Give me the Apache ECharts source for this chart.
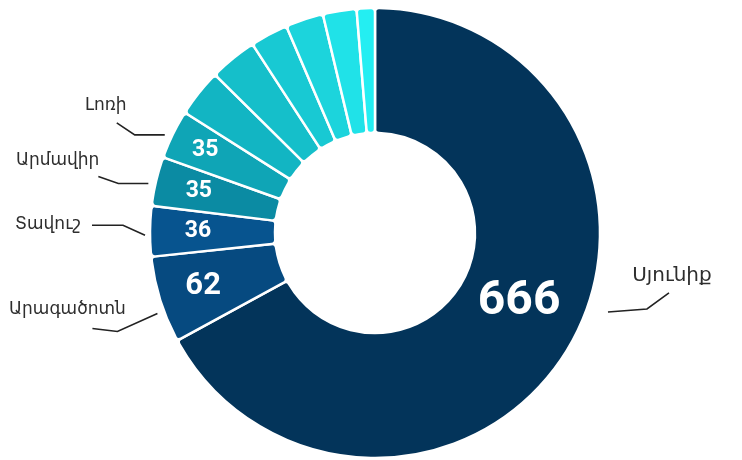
<!DOCTYPE html>
<html>
<head>
<meta charset="utf-8">
<script src="https://cdn.jsdelivr.net/npm/echarts@6/dist/echarts.min.js"></script>
<style>
  html, body { margin: 0; padding: 0; background: #fff; }
  #chart { width: 742px; height: 460px; }
</style>
</head>
<body>
<div id="chart"></div>
<script>
(function(){
  // data, clockwise from 12 o'clock
  var regions = ['Սյունիք', 'Արագածոտն', 'Տավուշ', 'Արմավիր', 'Լոռի',
                 'Կոտայք', 'Շիրակ', 'Գեղարքունիք', 'Արարատ', 'Վայոց ձոր', 'Երևան'];
  var values = [666, 62, 36, 35, 35, 34, 34, 27, 27, 24, 13];
  var colors = ['#03345a', '#064a80', '#07548f', '#0b8ba3', '#0fa5b6',
                '#12b5c3', '#15bfca', '#18c9d3', '#1cd4dc', '#20e2e8', '#24eef2'];
  var labelled = 5; // first five slices carry a name and a value

  var CX = 375, CY = 233, R0 = 100, R1 = 225;
  var numFont = 'Roboto, "Liberation Sans", sans-serif';
  var textFont = '"DejaVu Sans", "Noto Sans", sans-serif';

  // mid angle of each slice (screen radians, 0 = 3 o'clock, clockwise)
  var total = values.reduce(function(a, b){ return a + b; }, 0);
  var acc = 0;
  var midAng = values.map(function(v){
    var m = (acc + v / 2) / total * 2 * Math.PI - Math.PI / 2;
    acc += v;
    return m;
  });

  // number label placement: radius, small angle nudge, size
  var numPos = [
    { r: 160, turn: -5, size: 48 },
    { r: 180, turn: 0, size: 31 },
    { r: 177, turn: 0, size: 23 },
    { r: 181, turn: 0, size: 23 },
    { r: 189, turn: 0, size: 23 }
  ];

  // leader line shapes for the name labels
  var leaders = [
    { turn: -12, gap: 21, seg1: [39, -3], seg2: [22, -16], align: 'center', valign: 'bottom', tx: 3, ty: -7, size: 20 },
    { turn: -3, gap: 7, seg1: [-40, 18], seg2: [-25, -3], align: 'center', valign: 'bottom', tx: -25, ty: -10, size: 17 },
    { turn: -1, gap: 5, seg1: [-22, -10], seg2: [-31, 0], align: 'right', valign: 'middle', tx: -11, ty: -1, size: 17 },
    { turn: -1, gap: 7, seg1: [-30, 0], seg2: [-20, -7], align: 'right', valign: 'bottom', tx: 1, ty: -7, size: 17 },
    { turn: -1, gap: 7, seg1: [-30, 0], seg2: [-18, -12], align: 'center', valign: 'bottom', tx: -11, ty: -9, size: 17 }
  ];

  var mainData = regions.map(function(n, i){
    return {
      name: n, value: values[i],
      itemStyle: { color: colors[i] },
      label: i < labelled ? { show: true, fontSize: numPos[i].size } : { show: false }
    };
  });
  var nameData = regions.map(function(n, i){
    return {
      name: n, value: values[i],
      label: i < labelled ? { show: true, fontSize: leaders[i].size } : { show: false },
      labelLine: { show: i < labelled }
    };
  });

  var chart = echarts.init(document.getElementById('chart'), null, { renderer: 'canvas' });
  chart.setOption({
    animation: false,
    series: [
      {
        type: 'pie',
        center: [CX, CY],
        radius: [R0, R1],
        startAngle: 90,
        clockwise: true,
        avoidLabelOverlap: false,
        silent: true,
        itemStyle: { borderColor: '#fff', borderWidth: 2.5, borderRadius: 4 },
        label: {
          position: 'inside',
          color: '#fff',
          fontFamily: numFont,
          fontWeight: 'bold',
          formatter: '{c}'
        },
        labelLayout: function(p){
          var P = numPos[p.dataIndex];
          if (!P) return;
          var a = midAng[p.dataIndex] + P.turn * Math.PI / 180;
          return {
            x: CX + P.r * Math.cos(a),
            y: CY + P.r * Math.sin(a),
            align: 'center',
            verticalAlign: 'middle'
          };
        },
        data: mainData
      },
      {
        type: 'pie',
        center: [CX, CY],
        radius: [R0, R1],
        startAngle: 90,
        clockwise: true,
        avoidLabelOverlap: false,
        silent: true,
        itemStyle: { color: 'rgba(0,0,0,0)' },
        label: {
          position: 'outside',
          color: '#2e2e2e',
          fontFamily: textFont,
          formatter: '{b}'
        },
        labelLine: { length: 10, length2: 20, lineStyle: { color: '#222', width: 1.6 } },
        labelLayout: function(p){
          var L = leaders[p.dataIndex];
          if (!L) return;
          var a = midAng[p.dataIndex] + L.turn * Math.PI / 180;
          var r = R1 + L.gap;
          var x0 = CX + r * Math.cos(a), y0 = CY + r * Math.sin(a);
          var x1 = x0 + L.seg1[0], y1 = y0 + L.seg1[1];
          var x2 = x1 + L.seg2[0], y2 = y1 + L.seg2[1];
          return {
            x: x2 + L.tx,
            y: y2 + L.ty,
            align: L.align,
            verticalAlign: L.valign,
            labelLinePoints: [[x0, y0], [x1, y1], [x2, y2]]
          };
        },
        data: nameData
      }
    ]
  });
  window.addEventListener('resize', function(){ chart.resize(); });
})();
</script>
</body>
</html>
